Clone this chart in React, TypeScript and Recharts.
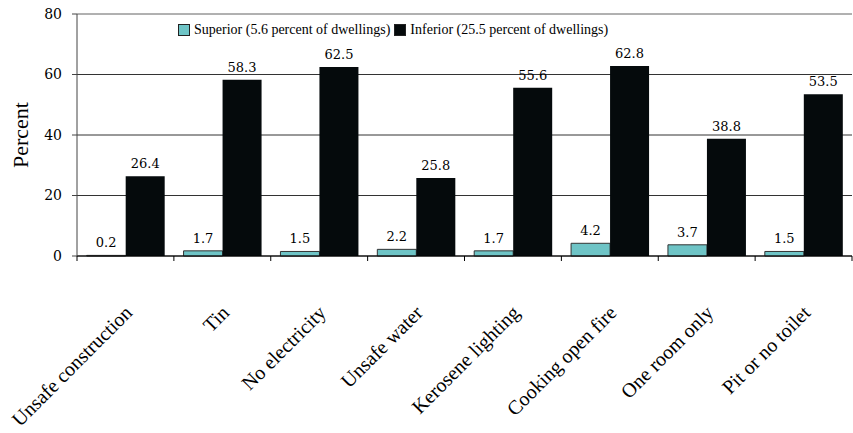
import React from 'react';
import {
  BarChart, Bar, XAxis, YAxis, CartesianGrid, Legend, LabelList, ReferenceLine
} from 'recharts';

// dwelling conditions, percent of dwellings in each class
const categories = [
  'Unsafe construction',
  'Tin',
  'No electricity',
  'Unsafe water',
  'Kerosene lighting',
  'Cooking open fire',
  'One room only',
  'Pit or no toilet',
];
const superiorValues = [0.2, 1.7, 1.5, 2.2, 1.7, 4.2, 3.7, 1.5];
const inferiorValues = [26.4, 58.3, 62.5, 25.8, 55.6, 62.8, 38.8, 53.5];
const yTicks = [0, 20, 40, 60, 80];

const superiorName = 'Superior (5.6 percent of dwellings)';
const inferiorName = 'Inferior (25.5 percent of dwellings)';
const legendOrder = [superiorName, inferiorName];

const data = categories.map((name, i) => ({
  name,
  superior: superiorValues[i],
  inferior: inferiorValues[i],
}));

const SERIF = '"Liberation Serif", "Times New Roman", serif';
const NUM_FONT = '"DejaVu Serif", serif';

const CategoryTick = (props: any) => {
  const { x, y, payload, index } = props;
  const half = payload.offset ?? 48.5;
  const tx = x + 8;
  const ty = y + 58;
  return (
    <g>
      <line x1={x - half} y1={y} x2={x - half} y2={y + 5} stroke="#000" />
      {index === categories.length - 1 && (
        <line x1={x + half} y1={y} x2={x + half} y2={y + 5} stroke="#000" />
      )}
      <text
        x={tx}
        y={ty}
        transform={`rotate(-45, ${tx}, ${ty})`}
        textAnchor="end"
        style={{ fontFamily: SERIF, fontSize: 20 }}
        fill="#000"
      >
        {payload.value}
      </text>
    </g>
  );
};

const LegendContent = (props: any) => {
  const items = [...(props.payload || [])].sort(
    (a: any, b: any) => legendOrder.indexOf(a.value) - legendOrder.indexOf(b.value)
  );
  return (
    <div style={{ display: 'flex', fontFamily: SERIF, fontSize: 14, color: '#000', lineHeight: '16px' }}>
      {items.map((entry: any) => (
        <div key={entry.value} style={{ display: 'flex', alignItems: 'center', marginRight: 4 }}>
          <span
            style={{
              display: 'inline-block',
              width: 10,
              height: 10,
              background: entry.color,
              border: '1px solid #222',
              marginRight: 4,
            }}
          />
          {entry.value}
        </div>
      ))}
    </div>
  );
};

const App: React.FC = () => (
  <div style={{ position: 'absolute', left: 0, top: 0, width: 853, height: 433, background: '#fff' }}>
    <BarChart
      width={853}
      height={433}
      data={data}
      margin={{ top: 14, right: 1, left: 30, bottom: 7 }}
      barGap={0}
      barCategoryGap="10%"
    >
      <CartesianGrid vertical={false} stroke="#333" />
      <ReferenceLine y={80} stroke="#c8c8c8" />
      <XAxis
        dataKey="name"
        interval={0}
        height={170}
        tickSize={0}
        tickMargin={0}
        tickLine={false}
        axisLine={{ stroke: '#000' }}
        tick={<CategoryTick />}
      />
      <YAxis
        width={47}
        domain={[0, 80]}
        ticks={yTicks}
        interval={0}
        tickSize={5}
        tickMargin={10}
        axisLine={{ stroke: '#444' }}
        tickLine={{ stroke: '#444' }}
        tick={{ fontFamily: NUM_FONT, fontSize: 14, fill: '#000' }}
        label={{
          value: 'Percent',
          angle: -90,
          position: 'insideLeft',
          dx: -15,
          style: { fontFamily: SERIF, fontSize: 22, fill: '#000', textAnchor: 'middle' },
        }}
      />
      <Legend
        layout="horizontal"
        verticalAlign="middle"
        content={<LegendContent />}
        wrapperStyle={{ top: 22, left: 178, width: 'auto' }}
      />
      <Bar dataKey="superior" name={superiorName} fill="#6ec4c6" stroke="#333" strokeWidth={1} isAnimationActive={false}>
        <LabelList dataKey="superior" position="top" offset={8} style={{ fontFamily: NUM_FONT, fontSize: 13, fill: '#000' }} />
      </Bar>
      <Bar dataKey="inferior" name={inferiorName} fill="#050a0c" isAnimationActive={false}>
        <LabelList dataKey="inferior" position="top" offset={8} style={{ fontFamily: NUM_FONT, fontSize: 13, fill: '#000' }} />
      </Bar>
    </BarChart>
  </div>
);

export default App;
